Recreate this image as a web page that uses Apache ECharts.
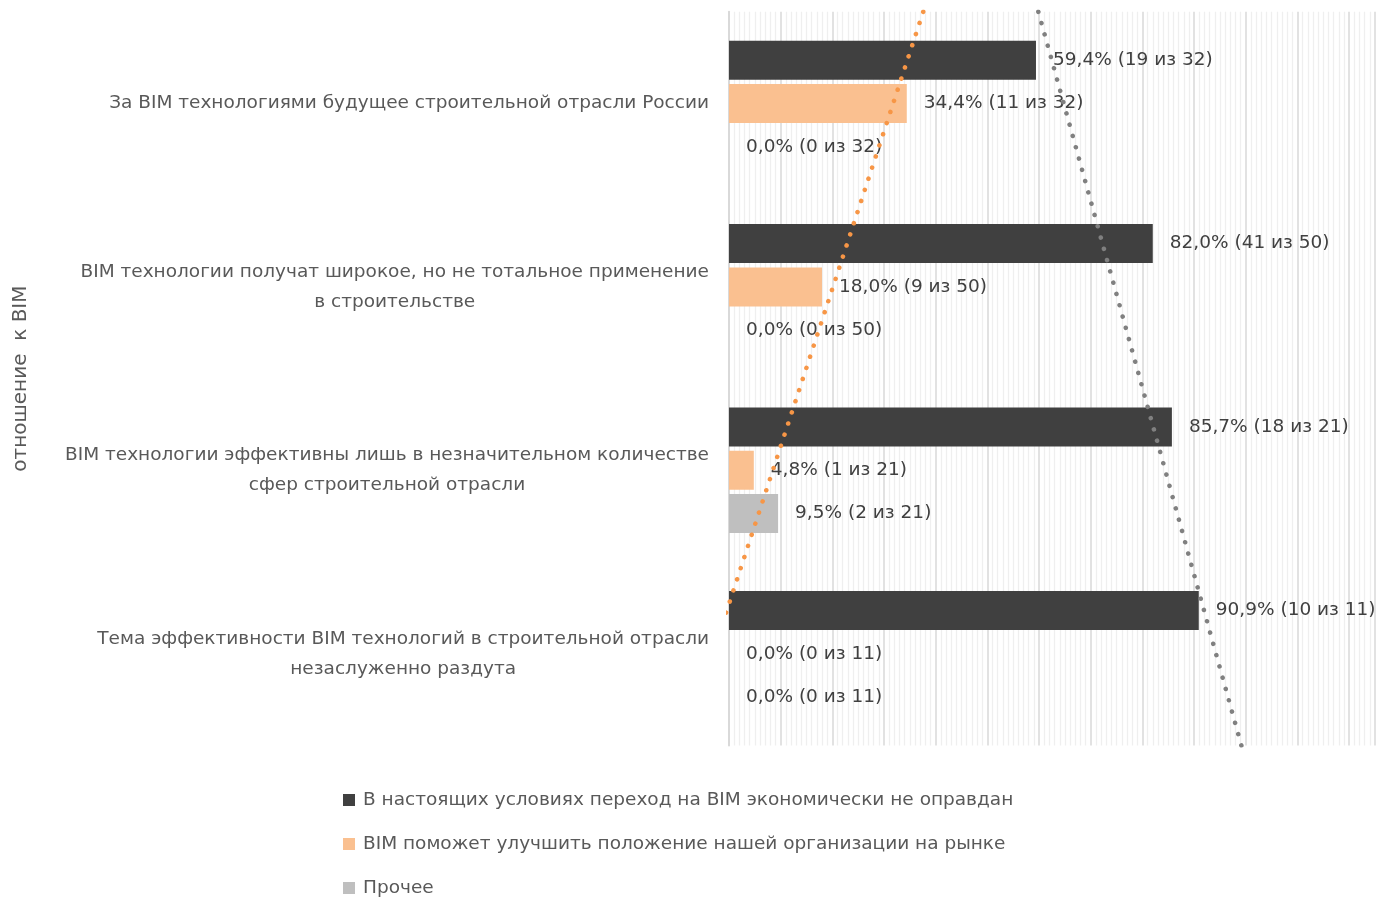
<!DOCTYPE html>
<html>
<head>
<meta charset="utf-8">
<script src="https://cdn.jsdelivr.net/npm/echarts@6/dist/echarts.min.js"></script>
<style>
  html, body { margin: 0; padding: 0; background: #fff; }
  #chart { width: 1379px; height: 899px; }
</style>
</head>
<body>
<div id="chart"></div>
<script>
// Attitudes towards BIM: share of answers per statement
const categories = [
  ['За BIM технологиями будущее строительной отрасли России'],
  ['BIM технологии получат широкое, но не тотальное применение', 'в строительстве'],
  ['BIM технологии эффективны лишь в незначительном количестве', 'сфер строительной отрасли'],
  ['Тема эффективности BIM технологий в строительной отрасли', 'незаслуженно раздута']
];
const seriesNames = [
  'В настоящих условиях переход на BIM экономически не оправдан',
  'BIM поможет улучшить положение нашей организации на рынке',
  'Прочее'
];
const totals = [32, 50, 21, 11];
const notJustifiedPct = [59.4, 82.0, 85.7, 90.9];
const notJustifiedCnt = [19, 41, 18, 10];
const improvePct = [34.4, 18.0, 4.8, 0.0];
const improveCnt = [11, 9, 1, 0];
const otherPct = [0.0, 0.0, 9.5, 0.0];
const otherCnt = [0, 0, 2, 0];

const FONT = '"DejaVu Sans", "Open Sans", sans-serif';
const FS = 18.5;
const barColors = ['#404040', '#FAC090', '#BFBFBF'];

function fmt(v) { return v.toFixed(1).replace('.', ',') + '%'; }

function barData(pcts, cnts) {
  return pcts.map((v, i) => ({ value: v, label: { formatter: fmt(v) + ' (' + cnts[i] + ' из ' + totals[i] + ')' } }));
}

// Least-squares linear trend over category positions 1..n, drawn across the whole band range
function trend(values) {
  const n = values.length;
  const xs = values.map((_, i) => i + 1);
  const mx = xs.reduce((a, b) => a + b, 0) / n;
  const my = values.reduce((a, b) => a + b, 0) / n;
  let sxy = 0, sxx = 0;
  for (let i = 0; i < n; i++) { sxy += (xs[i] - mx) * (values[i] - my); sxx += (xs[i] - mx) ** 2; }
  const b = sxy / sxx, a = my - b * mx;
  return [[a + b * 0.5, 0.5], [a + b * (n + 0.5), n + 0.5]];
}

function barSeries(idx, pcts, cnts) {
  return {
    name: seriesNames[idx],
    type: 'bar',
    xAxisIndex: 0,
    yAxisIndex: 0,
    barWidth: 39,
    barGap: '11%',
    itemStyle: { color: barColors[idx] },
    label: {
      show: true,
      position: 'right',
      distance: 17,
      fontFamily: FONT,
      fontSize: FS,
      color: '#404040'
    },
    data: barData(pcts, cnts),
    z: 2
  };
}

function trendSeries(values, color) {
  return {
    type: 'line',
    xAxisIndex: 0,
    yAxisIndex: 1,
    symbol: 'none',
    silent: true,
    clip: true,
    lineStyle: { color: color, width: 4.6, type: [0.01, 11.7], cap: 'round' },
    data: trend(values),
    z: 5
  };
}

const chart = echarts.init(document.getElementById('chart'), null, { renderer: 'canvas' });
chart.setOption({
  animation: false,
  backgroundColor: '#ffffff',
  grid: { left: 729, right: 4, top: 11.8, bottom: 153.6, containLabel: false },
  legend: {
    orient: 'vertical',
    left: 343,
    top: 790,
    height: 120,
    padding: 0,
    itemWidth: 12,
    itemHeight: 12,
    itemGap: 24,
    icon: 'rect',
    data: seriesNames,
    textStyle: { fontFamily: FONT, fontSize: FS, color: '#595959', lineHeight: 20, padding: [0, 0, 0, 3] }
  },
  xAxis: {
    type: 'value',
    min: 0,
    max: 125,
    interval: 10,
    axisLabel: { show: false },
    axisTick: { show: false },
    axisLine: { show: false },
    splitLine: { show: true, lineStyle: { color: '#D9D9D9', width: 1.5 } },
    minorTick: { show: false, splitNumber: 10 },
    minorSplitLine: { show: true, lineStyle: { color: '#EFEFEF', width: 1.3 } }
  },
  yAxis: [
    {
      type: 'category',
      inverse: true,
      data: categories.map(c => c.join('\n')),
      name: 'отношение  к BIM',
      nameLocation: 'middle',
      nameRotate: 90,
      nameGap: 698,
      nameTextStyle: { fontFamily: FONT, fontSize: 20, color: '#595959' },
      axisTick: { show: false },
      axisLine: { show: true, lineStyle: { color: '#D9D9D9', width: 2 } },
      axisLabel: {
        margin: 20,
        fontFamily: FONT,
        fontSize: FS,
        color: '#595959',
        formatter: function (v) { return v.split('\n').map(s => '{c|' + s + '}').join('\n'); },
        rich: { c: { align: 'center', fontFamily: FONT, fontSize: FS, color: '#595959', lineHeight: 30 } }
      }
    },
    {
      type: 'value',
      inverse: true,
      min: 0.5,
      max: 4.5,
      show: false
    }
  ],
  series: [
    barSeries(0, notJustifiedPct, notJustifiedCnt),
    barSeries(1, improvePct, improveCnt),
    barSeries(2, otherPct, otherCnt),
    trendSeries(improvePct, '#F79646'),
    trendSeries(notJustifiedPct, '#808080')
  ]
});
</script>
</body>
</html>
